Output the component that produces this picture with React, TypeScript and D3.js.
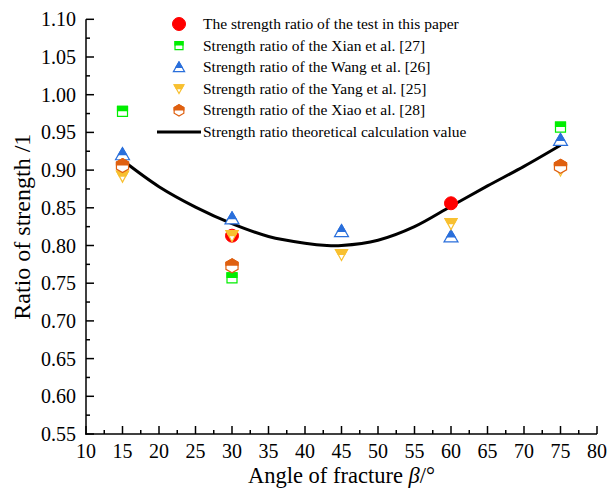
import * as d3 from "d3";

// angle of fracture (deg)
const angles = [15, 30, 45, 60, 75];

// strength ratio of each source, null = no point
const testPaper = [null, 0.813, null, 0.856, null];
const xian = [0.978, 0.757, null, null, 0.957];
const wang = [0.921, 0.836, 0.819, 0.812, 0.94];
const yang = [0.892, 0.813, 0.788, 0.829, 0.9];
const xiao = [0.906, 0.773, null, null, 0.905];

// theoretical curve
const curveAngles = [15, 20, 25, 30, 35, 40, 43, 45, 50, 55, 60, 65, 70, 75];
const curveValues = [0.913, 0.878, 0.851, 0.829, 0.812, 0.803, 0.8, 0.8, 0.807, 0.825, 0.852, 0.879, 0.905, 0.933];

const legendLabels = [
  "The strength ratio of the test in this paper",
  "Strength ratio of the Xian et al. [27]",
  "Strength ratio of the Wang et al. [26]",
  "Strength ratio of the Yang et al. [25]",
  "Strength ratio of the Xiao et al. [28]",
  "Strength ratio theoretical calculation value",
];

const xTicks = d3.range(10, 81, 5);
const yTicks = d3.range(0.55, 1.1001, 0.05);

const W = 609;
const H = 488;
const FONT = "Liberation Serif, Times New Roman, serif";

type Shape = "circle" | "square" | "up" | "down" | "hex";

function shapePath(shape: Shape, s: number) {
  if (shape === "circle") {
    const r = 6.5 * s;
    return `M${-r},0A${r},${r} 0 1,0 ${r},0A${r},${r} 0 1,0 ${-r},0Z`;
  }
  if (shape === "square") {
    const h = 5 * s;
    return `M${-h},${-h}H${h}V${h}H${-h}Z`;
  }
  if (shape === "up") {
    return `M0,${-6.5 * s}L${7 * s},${5.5 * s}L${-7 * s},${5.5 * s}Z`;
  }
  if (shape === "down") {
    return `M${-6 * s},${-5 * s}L${6 * s},${-5 * s}L0,${6 * s}Z`;
  }
  const r = 7 * s;
  const pts = d3.range(6).map((i) => {
    const a = ((-90 + i * 60) * Math.PI) / 180;
    return [r * Math.cos(a), r * Math.sin(a)];
  });
  return "M" + pts.map((p) => p.join(",")).join("L") + "Z";
}

function Marker({ shape, color, x, y, s = 1 }: { shape: Shape; color: string; x: number; y: number; s?: number }) {
  const d = shapePath(shape, s);
  if (shape === "circle") {
    return <path d={d} transform={`translate(${x},${y})`} fill={color} stroke={color} strokeWidth={1} />;
  }
  const clip = shape === "up" ? "url(#topPart)" : "url(#topHalf)";
  return (
    <g transform={`translate(${x},${y})`}>
      <path d={d} fill="#fff" stroke={color} strokeWidth={1.2} />
      <path d={d} fill={color} stroke={color} strokeWidth={1.2} clipPath={clip} />
    </g>
  );
}

const series: { values: (number | null)[]; shape: Shape; color: string }[] = [
  { values: testPaper, shape: "circle", color: "#ff0000" },
  { values: xian, shape: "square", color: "#00ee00" },
  { values: wang, shape: "up", color: "#2a6fdb" },
  { values: yang, shape: "down", color: "#f8c030" },
  { values: xiao, shape: "hex", color: "#df6010" },
];

export default function App() {
  const x = d3.scaleLinear().domain([10, 80]).range([86, 597]);
  const y = d3.scaleLinear().domain([0.55, 1.1]).range([434, 19.3]);

  const line = d3
    .line<number>()
    .x((_, i) => x(curveAngles[i]))
    .y((d) => y(d))
    .curve(d3.curveCatmullRom.alpha(0.5));

  const xMinor = d3.range(12.5, 80, 5);
  const yMinor = d3.range(0.575, 1.1, 0.05);

  const legendX = 179;
  const legendY0 = 24;
  const legendStep = 21.6;

  return (
    <svg width={W} height={H} style={{ position: "absolute", left: 0, top: 0, background: "#fff" }} fontFamily={FONT}>
      <defs>
        <clipPath id="topHalf" clipPathUnits="objectBoundingBox">
          <rect x={-0.2} y={-0.2} width={1.4} height={0.7} />
        </clipPath>
        <clipPath id="topPart" clipPathUnits="objectBoundingBox">
          <rect x={-0.2} y={-0.2} width={1.4} height={0.82} />
        </clipPath>
      </defs>

      {/* axes */}
      <g stroke="#000" strokeWidth={1.5}>
        <line x1={x(10)} x2={x(10)} y1={y(1.1)} y2={y(0.55) + 0.75} />
        <line x1={x(10) - 0.75} x2={x(80)} y1={y(0.55)} y2={y(0.55)} />
        {yTicks.map((t) => (
          <line key={"yt" + t} x1={x(10)} x2={x(10) + 8} y1={y(t)} y2={y(t)} />
        ))}
        {yMinor.map((t) => (
          <line key={"ym" + t} x1={x(10)} x2={x(10) + 4} y1={y(t)} y2={y(t)} />
        ))}
        {xTicks.map((t) => (
          <line key={"xt" + t} x1={x(t)} x2={x(t)} y1={y(0.55)} y2={y(0.55) - 8} />
        ))}
        {xMinor.map((t) => (
          <line key={"xm" + t} x1={x(t)} x2={x(t)} y1={y(0.55)} y2={y(0.55) - 4} />
        ))}
      </g>
      {yTicks.map((t) => (
        <text key={"yl" + t} x={76} y={y(t) + 7} textAnchor="end" fontSize={20}>
          {t.toFixed(2)}
        </text>
      ))}
      {xTicks.map((t) => (
        <text key={"xl" + t} x={x(t)} y={458} textAnchor="middle" fontSize={20}>
          {t}
        </text>
      ))}
      <text transform={`translate(30,${(y(1.1) + y(0.55)) / 2}) rotate(-90)`} textAnchor="middle" fontSize={24}>
        Ratio of strength /1
      </text>
      <text x={(x(10) + x(80)) / 2} y={483} textAnchor="middle" fontSize={22.5}>
        Angle of fracture <tspan fontStyle="italic">β</tspan>/°
      </text>

      {/* theoretical curve */}
      <path d={line(curveValues) ?? ""} fill="none" stroke="#000" strokeWidth={3} />

      {/* data points */}
      {series.map((s, si) =>
        s.values.map((v, i) =>
          v == null ? null : <Marker key={si + "-" + i} shape={s.shape} color={s.color} x={x(angles[i])} y={y(v)} />
        )
      )}

      {/* legend */}
      {legendLabels.map((label, i) => {
        const cy = legendY0 + i * legendStep;
        const s = series[i];
        return (
          <g key={"lg" + i}>
            {s ? (
              <Marker shape={s.shape} color={s.color} x={legendX} y={cy} s={s.shape === "circle" ? 1 : 0.8} />
            ) : (
              <line x1={157} x2={201} y1={cy} y2={cy} stroke="#000" strokeWidth={3} />
            )}
            <text x={203} y={cy + 5} fontSize={15.5}>
              {label}
            </text>
          </g>
        );
      })}
    </svg>
  );
}
